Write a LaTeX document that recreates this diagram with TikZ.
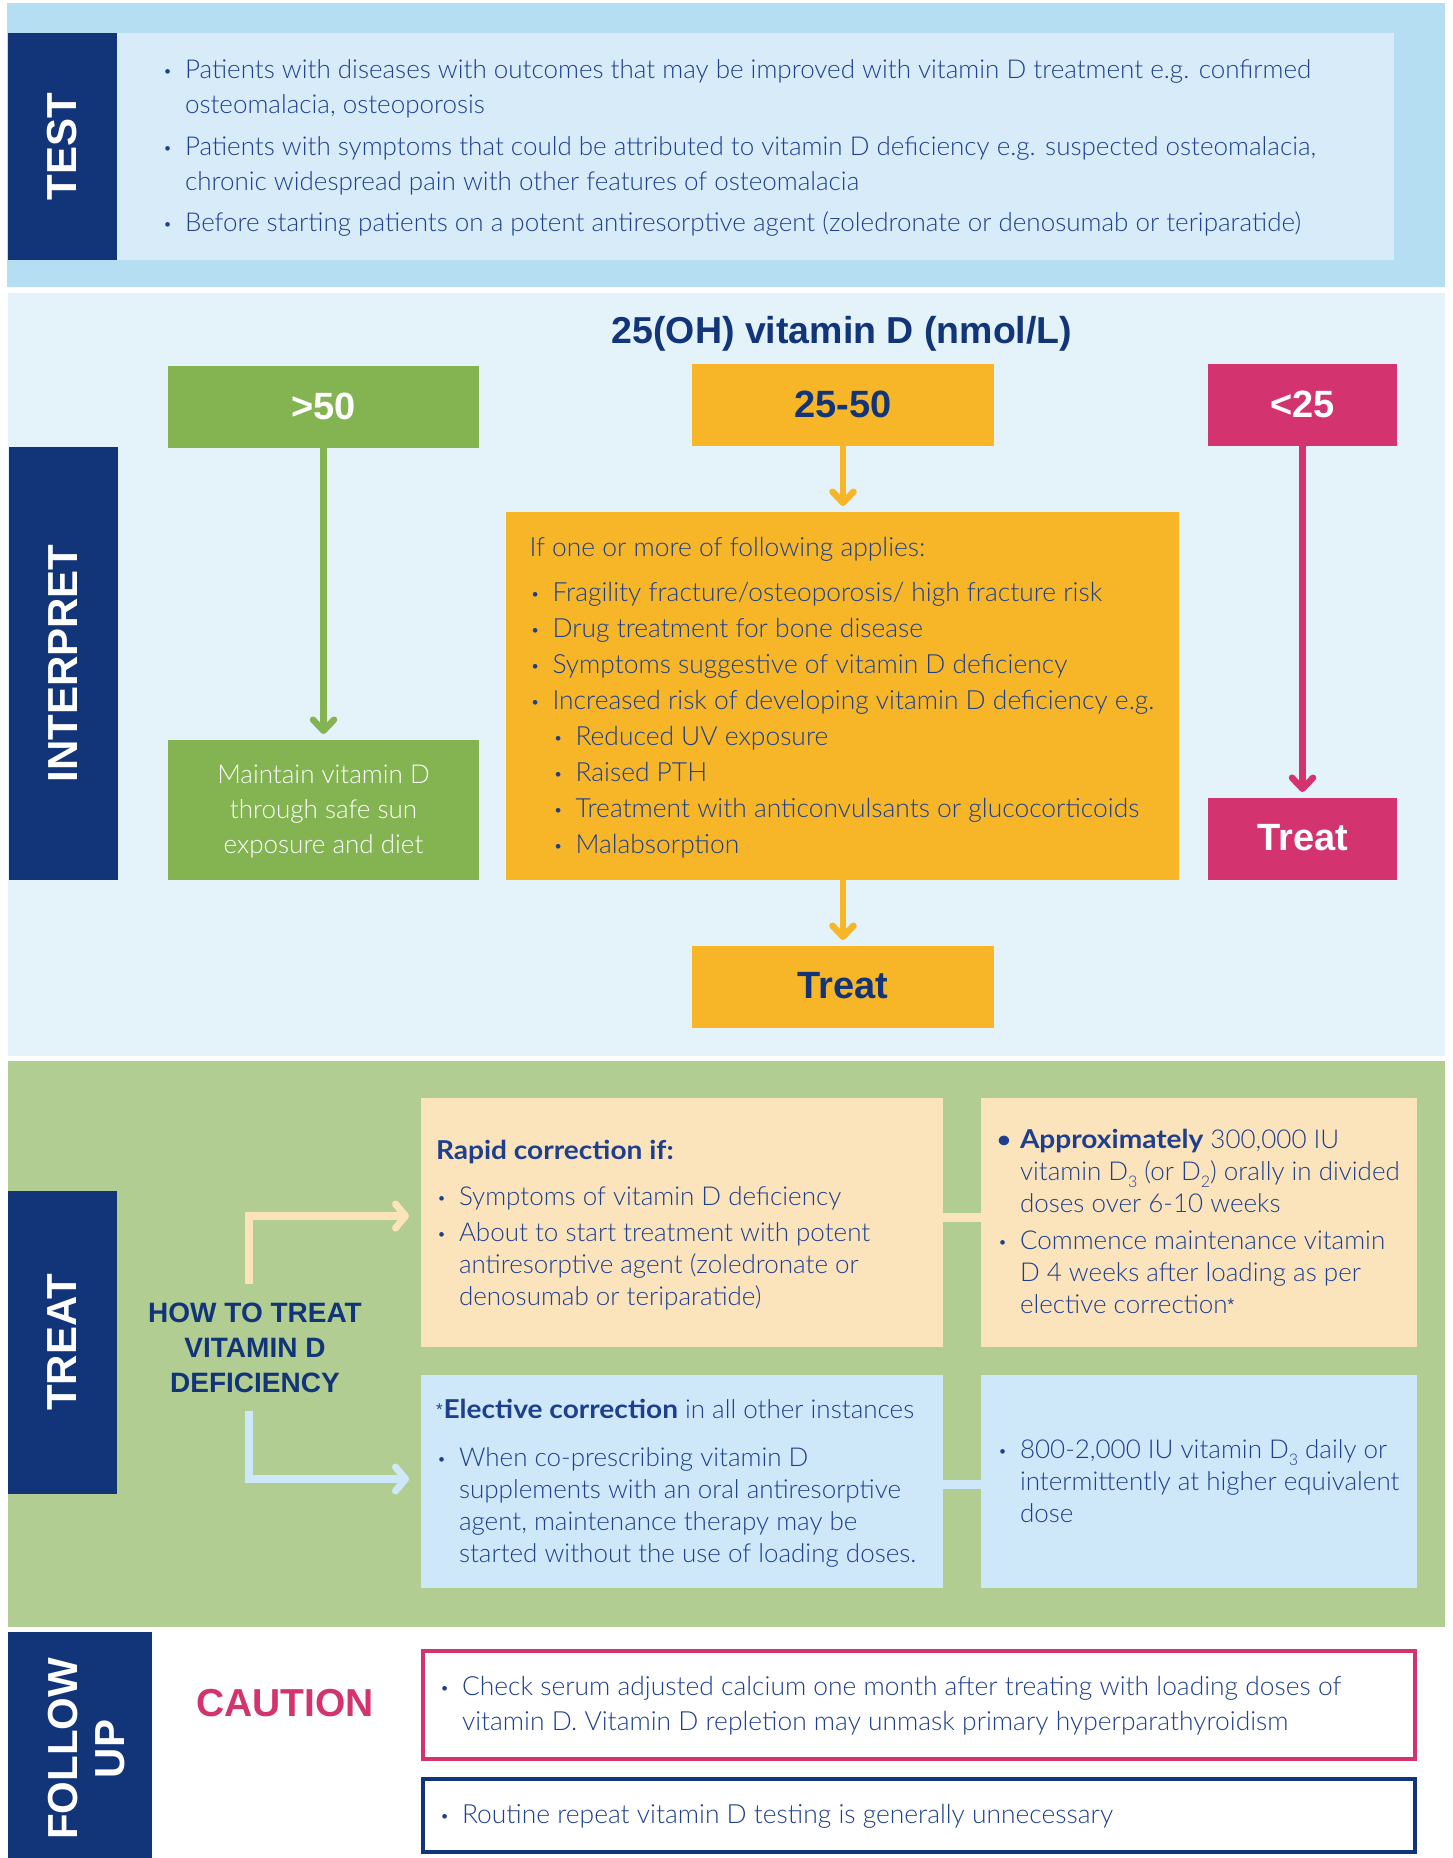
\documentclass[tikz,border=0pt]{standalone}
\usepackage{fontspec}
\setmainfont{Lato Light}[BoldFont={Lato Bold}, BoldFeatures={FakeStretch=1.08}]
\newfontfamily\hf{Liberation Sans}
\usetikzlibrary{arrows.meta}
\definecolor{navy}{HTML}{12357A}
\definecolor{bodyc}{HTML}{1E3F8E}
\definecolor{testout}{HTML}{B6DEF3}
\definecolor{testin}{HTML}{D7ECF8}
\definecolor{interbg}{HTML}{E4F3FA}
\definecolor{greenc}{HTML}{84B452}
\definecolor{orangec}{HTML}{F7B528}
\definecolor{pinkc}{HTML}{D3336E}
\definecolor{treatbg}{HTML}{B2CD91}
\definecolor{peachc}{HTML}{FBE3BB}
\definecolor{lbluec}{HTML}{CFE8F9}
\newcommand\bu{\hspace*{1pt}\raisebox{2pt}{\scalebox{0.6}{\textbullet}}}
\newcommand\bbu{\raisebox{1pt}{\scalebox{0.85}{\textbf{\textbullet}}}}
\newcommand\sub[1]{\raisebox{-7pt}{\fontsize{16}{16}\selectfont #1}}
\newcommand\sstar{\raisebox{3pt}{\hf\fontsize{17}{17}\selectfont *}\hspace{1pt}}
\newcommand\hfb{\hf\bfseries\fontsize{38}{38}\selectfont}
\newcommand\up[1]{\raisebox{2.4pt}{#1}}
\tikzset{
  panel/.style={inner sep=0pt, outer sep=0pt},
  txt/.style={inner sep=0pt, outer sep=0pt, anchor=base west, text=bodyc, font=\fontsize{26}{35}\selectfont},
  sidelbl/.style={rotate=90, text=white, inner sep=0pt, font=\hf\bfseries\fontsize{42}{47}\selectfont, align=center},
  iarrow/.style={line width=6.5pt, -{Straight Barb[length=11pt,width=21pt,line width=6.5pt,round]}, shorten >=6pt},
  tarrow/.style={line width=8pt, -{Straight Barb[length=10pt,width=24pt,line width=7pt,round]}, shorten >=12pt}
}
\begin{document}
\begin{tikzpicture}[x=1pt,y=-1pt]
\useasboundingbox (0,0) rectangle (1453,1858);
\fill[white] (0,0) rectangle (1453,1858);
\fill[testout] (7,3) rectangle (1445,287);
\fill[interbg] (8,293) rectangle (1445,1056);
\fill[treatbg] (8,1061) rectangle (1445,1627);

% ---------- TEST ----------
\node[panel, fill=navy, minimum width=109pt, minimum height=227pt] (testside) at (62.5,146.5) {};
\node[sidelbl] (testlbl) at (testside.center) {TEST};
\node[panel, fill=testin, minimum width=1277pt, minimum height=227pt] (testbox) at (755.5,146.5) {};
\node[txt] (testtxt) at (162,78) {\begin{tabular}[t]{@{}p{23pt}@{}l@{}}
\bu & Patients with diseases with outcomes that may be improved with vitamin D treatment e.g. confirmed\\
 & osteomalacia, osteoporosis\\[7pt]
\bu & Patients with symptoms that could be attributed to vitamin D deficiency e.g. suspected osteomalacia,\\
 & chronic widespread pain with other features of osteomalacia\\[6pt]
\bu & Before starting patients on a potent antiresorptive agent (zoledronate or denosumab or teriparatide)
\end{tabular}};

% ---------- INTERPRET ----------
\node[panel, fill=navy, minimum width=109pt, minimum height=433pt] (intside) at (63.5,663.5) {};
\node[sidelbl] (intlbl) at (intside.center) {INTERPRET};
\node[anchor=base, text=navy, inner sep=0pt, font=\hf\bfseries\fontsize{37.5}{38}\selectfont] (title) at (842,343) {25(OH) vitamin D (nmol/L)};

\node[panel, fill=greenc, minimum width=311pt, minimum height=82pt, text=white, font=\hfb] (g50) at (323.5,407) {\up{>50}};
\node[panel, fill=orangec, minimum width=302pt, minimum height=82pt, text=navy, font=\hfb] (o2550) at (843,405) {\up{25-50}};
\node[panel, fill=pinkc, minimum width=189pt, minimum height=82pt, text=white, font=\hfb] (p25) at (1302.5,405) {\up{<25}};

\node[panel, fill=greenc, minimum width=311pt, minimum height=140pt] (maint) at (323.5,810) {};
\node[txt, anchor=base, text=white] (mainttxt) at (323.5,783) {\begin{tabular}[t]{@{}c@{}}Maintain vitamin D\\through safe sun\\exposure and diet\end{tabular}};

\node[panel, fill=orangec, minimum width=673pt, minimum height=368pt] (obox) at (842.5,696) {};
\node[txt, font=\fontsize{26.4}{36}\selectfont] (otxt) at (529.5,556) {\begin{tabular}[t]{@{}p{23pt}@{}l@{}}
\multicolumn{2}{@{}l@{}}{If one or more of following applies:}\\[9pt]
\bu & Fragility fracture/osteoporosis/ high fracture risk\\
\bu & Drug treatment for bone disease\\
\bu & Symptoms suggestive of vitamin D deficiency\\
\bu & Increased risk of developing vitamin D deficiency e.g.\\
 & \makebox[23pt][l]{\bu}Reduced UV exposure\\
 & \makebox[23pt][l]{\bu}Raised PTH\\
 & \makebox[23pt][l]{\bu}Treatment with anticonvulsants or glucocorticoids\\
 & \makebox[23pt][l]{\bu}Malabsorption
\end{tabular}};

\node[panel, fill=pinkc, minimum width=189pt, minimum height=82pt, text=white, font=\hfb] (ptreat) at (1302.5,839) {\up{Treat}};
\node[panel, fill=orangec, minimum width=302pt, minimum height=82pt, text=navy, font=\hfb] (otreat) at (843,987) {\up{Treat}};

\draw[iarrow, greenc] (g50) -- (maint);
\draw[iarrow, orangec] (o2550.south) -- (o2550.south |- obox.north);
\draw[iarrow, pinkc] (p25) -- (ptreat);
\draw[iarrow, orangec] (otreat.north |- obox.south) -- (otreat.north);

% ---------- TREAT ----------
\node[panel, fill=navy, minimum width=109pt, minimum height=303pt] (trside) at (62.5,1342.5) {};
\node[sidelbl] (trlbl) at (trside.center) {TREAT};
\node[font=\hf\bfseries\fontsize{28}{35}\selectfont, text=navy, align=center, inner sep=0pt] (howto) at (255,1348) {HOW TO TREAT\\VITAMIN D\\DEFICIENCY};

\node[panel, fill=peachc, minimum width=522pt, minimum height=249pt] (rapid) at (682,1222.5) {};
\node[panel, fill=peachc, minimum width=436pt, minimum height=249pt] (approx) at (1199,1222.5) {};
\node[panel, fill=lbluec, minimum width=522pt, minimum height=213pt] (elect) at (682,1481.5) {};
\node[panel, fill=lbluec, minimum width=436pt, minimum height=213pt] (daily) at (1199,1481.5) {};
\draw[line width=9pt, peachc] ([yshift=5.5pt]rapid.east) -- ([yshift=5.5pt]approx.west);
\draw[line width=9pt, lbluec] ([yshift=-2.5pt]elect.east) -- ([yshift=-2.5pt]daily.west);
\coordinate (hs1) at (249,1284);
\coordinate (hs2) at (249,1411);
\draw[tarrow, peachc] (hs1) |- ([yshift=6.5pt]rapid.west);
\draw[tarrow, lbluec] (hs2) |- ([yshift=2.5pt]elect.west);

\node[txt, font=\fontsize{26}{32}\selectfont] (rapidtxt) at (436,1159) {\begin{tabular}[t]{@{}p{23pt}@{}l@{}}
\multicolumn{2}{@{}l@{}}{\bfseries Rapid correction if:}\\[14pt]
\bu & Symptoms of vitamin D deficiency\\[4pt]
\bu & About to start treatment with potent\\
 & antiresorptive agent (zoledronate or\\
 & denosumab or teriparatide)
\end{tabular}};
\node[txt, font=\fontsize{26}{32}\selectfont] (approxtxt) at (997,1148) {\begin{tabular}[t]{@{}p{23pt}@{}l@{}}
\bbu & \textbf{Approximately} 300,000 IU\\
 & vitamin D\sub{3} (or D\sub{2}) orally in divided\\
 & doses over 6-10 weeks\\[5pt]
\bu & Commence maintenance vitamin\\
 & D 4 weeks after loading as per\\
 & elective correction\sstar
\end{tabular}};
\node[txt, font=\fontsize{26}{32}\selectfont] (electtxt) at (436,1418) {\begin{tabular}[t]{@{}p{23pt}@{}l@{}}
\multicolumn{2}{@{}l@{}}{\sstar\textbf{Elective correction} in all other instances}\\[16pt]
\bu & When co-prescribing vitamin D\\
 & supplements with an oral antiresorptive\\
 & agent, maintenance therapy may be\\
 & started without the use of loading doses.
\end{tabular}};
\node[txt, font=\fontsize{26}{32}\selectfont] (dailytxt) at (997,1458) {\begin{tabular}[t]{@{}p{23pt}@{}l@{}}
\bu & 800-2,000 IU vitamin D\sub{3} daily or\\
 & intermittently at higher equivalent\\
 & dose
\end{tabular}};

% ---------- FOLLOW UP ----------
\node[panel, fill=navy, minimum width=144pt, minimum height=226pt] (fside) at (80,1745) {};
\node[sidelbl] (flbl) at (86.5,1749) {FOLLOW\\UP};
\node[font=\hf\bfseries\fontsize{39}{39}\selectfont, text=pinkc, inner sep=0pt] (caution) at (285,1703) {CAUTION};
\node[panel, draw=pinkc, line width=4pt, minimum width=992pt, minimum height=108pt] (cbox) at (919,1705) {};
\node[panel, draw=navy, line width=4pt, minimum width=992pt, minimum height=73pt] (rbox) at (919,1815.5) {};
\node[txt, font=\fontsize{26.4}{35}\selectfont] (ctxt) at (439,1695) {\begin{tabular}[t]{@{}p{23pt}@{}l@{}}
\bu & Check serum adjusted calcium one month after treating with loading doses of\\
 & vitamin D. Vitamin D repletion may unmask primary hyperparathyroidism
\end{tabular}};
\node[txt, font=\fontsize{26.4}{35}\selectfont] (rtxt) at (439,1823) {\begin{tabular}[t]{@{}p{23pt}@{}l@{}}
\bu & Routine repeat vitamin D testing is generally unnecessary
\end{tabular}};
\end{tikzpicture}
\end{document}
